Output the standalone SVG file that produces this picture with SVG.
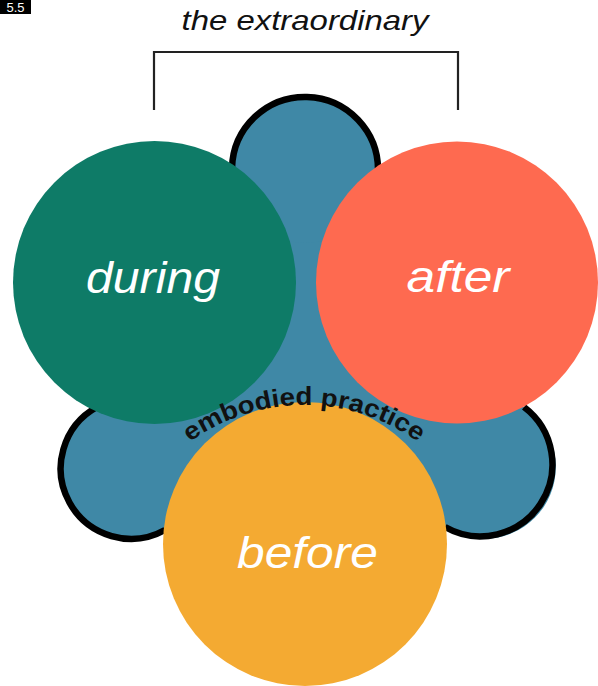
<svg xmlns="http://www.w3.org/2000/svg" width="598" height="686" viewBox="0 0 598 686">
<style>
.label{font-family:"Liberation Sans",Arial,sans-serif;font-style:italic;fill:#ffffff;text-anchor:middle}
.outline{fill:none;stroke:#000;stroke-width:6.5}
.blue{fill:#3F88A6}
</style>
<defs>
<path id="arcText" d="M 110 599 A 194 194 0 0 1 498 599"/>
</defs>
<rect width="598" height="686" fill="#ffffff"/>
<g id="badge">
<rect x="0" y="0" width="31" height="14" fill="#000"/>
<text x="15.5" y="11.5" font-family="Liberation Sans,Arial,sans-serif" font-size="13" fill="#fff" text-anchor="middle">5.5</text>
</g>
<g id="title">
<text x="305" y="30" font-family="Liberation Sans,Arial,sans-serif" font-style="italic" font-size="28" fill="#111" text-anchor="middle" textLength="247" lengthAdjust="spacingAndGlyphs">the extraordinary</text>
</g>
<g id="connectors">
<path d="M 154 110 V 52 H 458 V 110" fill="none" stroke="#222" stroke-width="2.2"/>
</g>
<g id="embodied-practice">
<polygon class="blue" points="155,282 305,170 457,282 484,467 305,544 131,468"/>
<circle class="blue" cx="305" cy="170" r="73"/>
<circle class="blue" cx="131" cy="468.5" r="70.3"/>
<circle class="blue" cx="484" cy="467" r="71.8"/>
<path class="outline" d="M 232 168 A 73 73 0 1 1 378 172"/>
<path class="outline" d="M 97 407 A 70 70 0 1 0 165 530"/>
<path class="outline" d="M 524 407 A 72 72 0 0 1 445 527"/>
</g>
<g id="during">
<circle cx="154.5" cy="282.5" r="141.5" fill="#0E7B67"/>
<text class="label" x="153" y="293" font-size="44" textLength="134" lengthAdjust="spacingAndGlyphs">during</text>
</g>
<g id="after">
<circle cx="457" cy="282.5" r="141" fill="#FE6A50"/>
<text class="label" x="458" y="292" font-size="44" textLength="103" lengthAdjust="spacingAndGlyphs">after</text>
</g>
<g id="before">
<circle cx="305" cy="544" r="142" fill="#F4AA32"/>
<text class="label" x="307.5" y="568" font-size="44" textLength="141" lengthAdjust="spacingAndGlyphs">before</text>
</g>
<g id="practice-label">
<text font-family="Liberation Sans,Arial,sans-serif" font-weight="bold" font-size="25" fill="#111" text-anchor="middle"><textPath href="#arcText" startOffset="50%" textLength="244" lengthAdjust="spacingAndGlyphs">embodied practice</textPath></text>
</g>
</svg>
